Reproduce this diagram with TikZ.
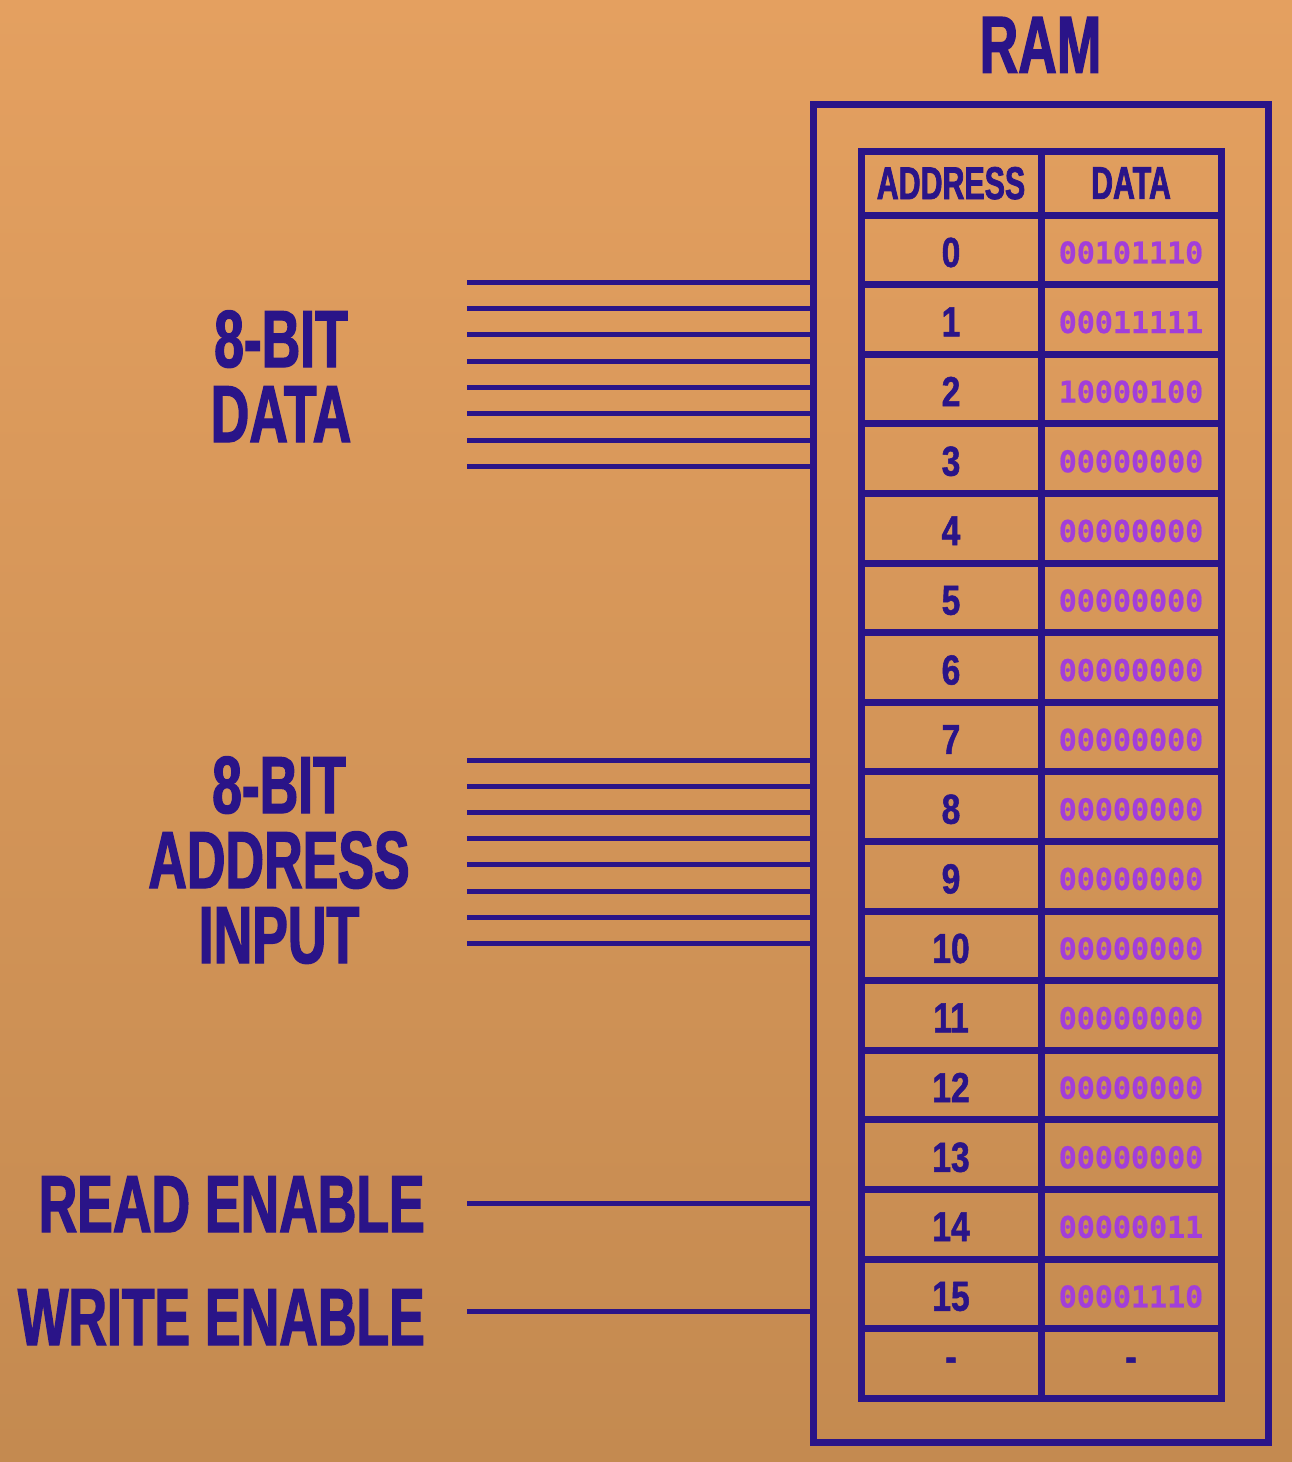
\documentclass[tikz,border=0pt]{standalone}
\usepackage{fontspec}
\newfontfamily\ramfont[FakeStretch=0.66, BoldFeatures={FakeBold=1.6}]{Liberation Sans}
\newfontfamily\numfont[FakeStretch=0.8, BoldFeatures={FakeBold=1.2}]{Liberation Sans}
\newfontfamily\bitfont[BoldFeatures={FakeBold=0.6}]{DejaVu Sans Mono}
\usetikzlibrary{positioning}
\definecolor{ramink}{RGB}{42,20,136}
\definecolor{bitink}{RGB}{162,62,218}
\definecolor{bgtop}{RGB}{228,160,96}
\definecolor{bgmid}{RGB}{226,167,108}
\definecolor{bgbot}{RGB}{196,138,80}

\tikzset{
    wire/.style={ramink, line width=5},
    cell/.style={rectangle, draw=ramink, line width=7, minimum width=180, minimum height=69.6, inner sep=0, text depth=0pt},
    sidetext/.style={ramink, inner sep=0, anchor=base, font=\ramfont\bfseries\fontsize{81}{81}\selectfont},
}

\begin{document}
\begin{tikzpicture}[x=1pt, y=-1pt]
    \useasboundingbox (0,0) rectangle (1292,1462);
    \fill[top color=bgtop, middle color=bgmid, bottom color=bgbot] (0,0) rectangle (1292,1462);

    % the RAM block and its title
    \node (ramBox) [rectangle, draw=ramink, line width=7, minimum width=455, minimum height=1338, inner sep=0] at (1040.5,773) {};
    \node (ramTitle) [sidetext, text depth=0pt, above=27.5pt of ramBox] {RAM};

    % table
    \node (addrHead) [cell, minimum height=64, font=\ramfont\bfseries\fontsize{46}{46}\selectfont, text=ramink] at (951,183) {ADDRESS};
    \node (dataHead) [cell, minimum height=64, font=\ramfont\bfseries\fontsize{46}{46}\selectfont, text=ramink] at (1131,183) {DATA};
    \foreach \addr/\val [count=\k from 0] in {0/00101110, 1/00011111, 2/10000100, 3/00000000, 4/00000000, 5/00000000, 6/00000000, 7/00000000, 8/00000000, 9/00000000, 10/00000000, 11/00000000, 12/00000000, 13/00000000, 14/00000011, 15/00001110} {
        \node (addr\k) [cell, text=ramink, font=\numfont\bfseries\fontsize{42}{42}\selectfont] at (951,{215+(\k+0.5)*69.6}) {\raisebox{-5pt}{\addr}};
        \node (val\k) [cell, text=bitink, font=\bitfont\bfseries\fontsize{30}{30}\selectfont] at (1131,{215+(\k+0.5)*69.6}) {\raisebox{-5pt}{\val}};
    }
    \node (addrMore) [cell, text=ramink, font=\numfont\bfseries\fontsize{42}{42}\selectfont] at (951,{215+16.5*69.6}) {\raisebox{-2pt}{-}};
    \node (valMore) [cell, text=ramink, font=\numfont\bfseries\fontsize{42}{42}\selectfont] at (1131,{215+16.5*69.6}) {\raisebox{-2pt}{-}};

    % inputs
    \foreach \i in {0,...,7} {
        \coordinate (data\i) at (467,{282.3+26.3*\i});
        \draw [wire] (data\i) -- (data\i -| ramBox.west);
        \coordinate (adr\i) at (467,{760+26.2*\i});
        \draw [wire] (adr\i) -- (adr\i -| ramBox.west);
    }
    \coordinate (readIn) at (467,1203);
    \coordinate (writeIn) at (467,1311);
    \draw [wire] (readIn) -- (readIn -| ramBox.west);
    \draw [wire] (writeIn) -- (writeIn -| ramBox.west);

    % labels
    \node (dataLabA) [sidetext] at (281,367) {8-BIT};
    \node (dataLabB) [sidetext] at (281,442) {DATA};
    \node (adrLabA) [sidetext] at (279,813) {8-BIT};
    \node (adrLabB) [sidetext] at (279,888) {ADDRESS};
    \node (adrLabC) [sidetext] at (279,963) {INPUT};
    \node (readLab) [sidetext, anchor=base east] at (425,1232) {READ ENABLE};
    \node (writeLab) [sidetext, anchor=base east] at (425,1345) {WRITE ENABLE};
\end{tikzpicture}
\end{document}
